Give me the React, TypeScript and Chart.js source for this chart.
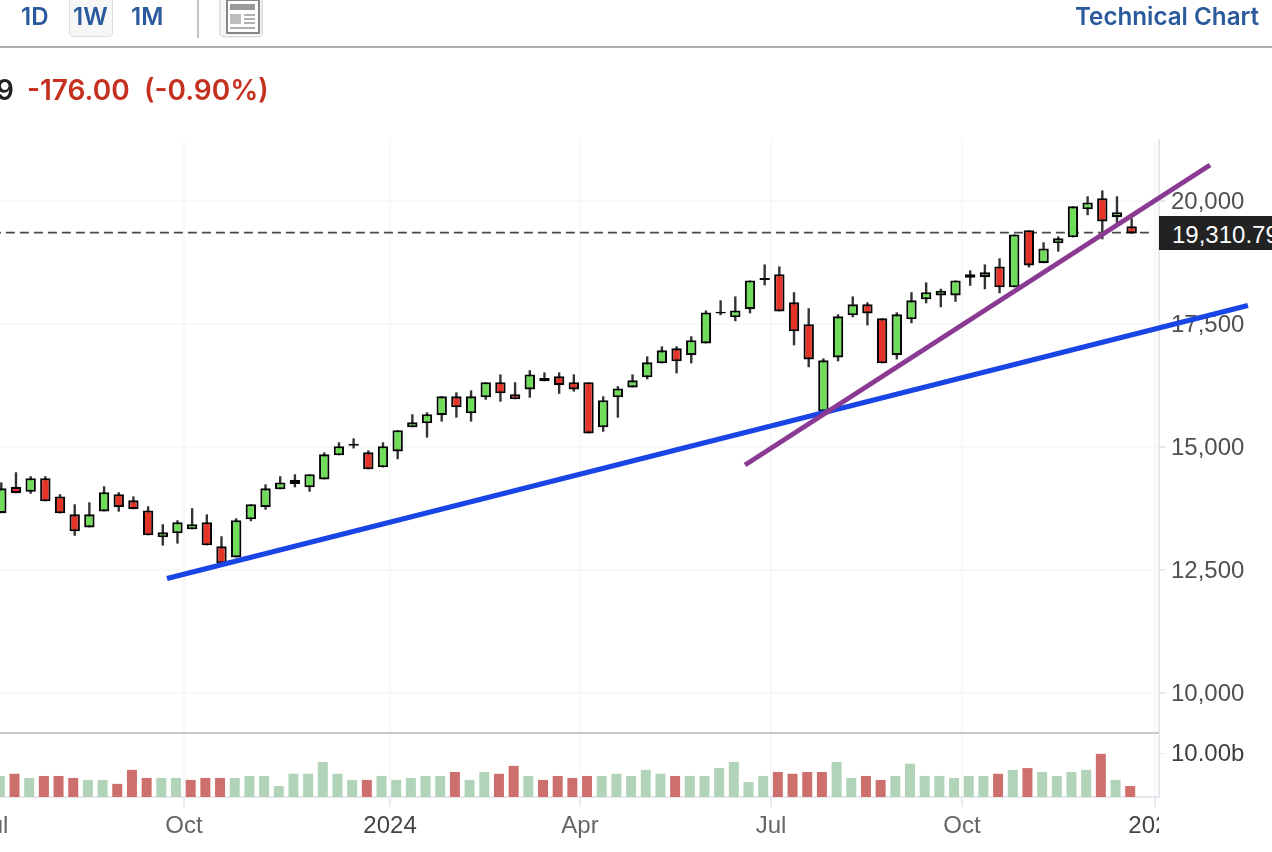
import React, { useEffect, useRef } from "react";
import { Chart, registerables } from "chart.js";

Chart.register(...registerables);

const opens = [13650,14185,14085,14360,13990,13625,13360,13685,14035,13910,13705,13160,13240,13320,13465,12975,12750,13525,13770,14135,14240,14175,14335,14825,15020,14885,14580,14905,15395,15475,15640,16025,15680,16005,16310,16065,16165,16395,16430,16310,16310,15395,16005,16205,16410,16695,17000,16860,17100,17705,17630,17795,18390,18505,17935,17490,15720,16815,17670,17895,17610,16860,17590,17995,18075,18075,18435,18445,18665,18240,19400,18730,19135,19255,19825,20050,19665,19480];
const closes = [14155,14055,14360,13890,13645,13280,13625,14075,13770,13730,13200,13260,13465,13425,12995,12630,13505,13830,14155,14275,14325,14440,14845,15010,15060,14540,15010,15335,15495,15660,16025,15800,16025,16310,16085,15965,16470,16330,16250,16165,15270,15945,16185,16350,16715,16960,16735,17165,17730,17745,17770,18380,18430,17750,17345,16775,16755,17650,17895,17710,16695,17690,17975,18140,18170,18380,18505,18545,18240,19315,18685,19030,19235,19885,19965,19580,19765,19335];
const highs = [14275,14480,14400,14400,14035,13830,13870,14195,14075,13990,13790,13425,13505,13750,13625,13180,13545,13830,14235,14400,14440,14440,14885,15090,15170,14925,15090,15335,15660,15700,16025,16105,16145,16310,16470,16310,16555,16510,16510,16470,16310,16025,16230,16470,16835,17040,17040,17245,17770,17975,18055,18380,18705,18665,18140,17815,16795,17690,18055,17935,17610,17730,18140,18340,18210,18380,18585,18705,18830,19315,19400,19155,19275,19885,20090,20210,20090,19640];
const lows = [13650,14055,14045,13890,13645,13190,13360,13685,13680,13730,13200,12990,13030,13320,12995,12630,12750,13485,13720,14135,14175,14085,14335,14825,14965,14540,14580,14745,15395,15185,15510,15590,15510,15955,15915,15965,15995,16330,16075,16120,15270,15305,15590,16205,16370,16695,16490,16695,17100,17675,17550,17710,18280,17750,17060,16615,15720,16735,17630,17465,16695,16775,17510,17915,17835,17945,18270,18200,18120,18240,18645,18730,18965,19255,19705,19215,19540,19335];
const volumes = [4.8,5.3,4.35,4.8,4.8,4.35,3.9,3.9,3.0,6.2,4.35,4.35,4.35,3.9,4.35,4.35,4.35,4.8,4.8,2.5,5.3,5.3,8.0,5.3,3.9,3.9,4.8,3.9,4.35,4.8,4.8,5.7,3.9,5.7,5.3,7.1,4.8,3.9,4.8,4.35,4.8,4.8,5.3,4.8,6.2,5.3,4.8,4.8,4.8,6.6,8.0,3.4,4.8,5.7,5.3,5.7,5.7,8.0,4.35,4.8,3.9,4.8,7.6,4.8,4.8,4.35,4.8,4.8,5.3,6.2,6.6,5.7,4.8,5.7,6.2,9.85,3.9,2.5];
const volumeUp = [1,0,1,0,0,0,1,1,0,0,0,1,1,0,0,0,1,1,1,1,1,1,1,1,1,0,1,1,1,1,1,0,1,1,0,0,1,0,0,0,0,1,1,1,1,1,0,1,1,1,1,1,1,0,0,0,0,1,1,0,0,1,1,1,1,1,1,1,0,1,0,1,1,1,1,0,1,0];

const priceTicks = [10000, 12500, 15000, 17500, 20000];
const volumeTicks = [10];
const xTickPositions = [-0.565, 12.445, 26.48, 39.42, 52.43, 65.44, 78.59];
const xTickLabels = ["Jul", "Oct", "2024", "Apr", "Jul", "Oct", "2025"];

const blueTrend = [{ x: 11.287, y: 12321 }, { x: 84.92, y: 17870 }];
const purpleTrend = [{ x: 50.66, y: 14628 }, { x: 82.34, y: 20726 }];
const lastLevel = 19350;
const lastLabel = "19,310.79";

const AXIS_FONT = "'Liberation Sans', Arial, sans-serif";
const UI_FONT = "Inter, 'Liberation Sans', sans-serif";
const BLUE_TEXT = "#2a5a9c";

function CandleChart() {
  const ref = useRef<HTMLCanvasElement>(null);
  useEffect(() => {
    const idx = opens.map((_, i) => i);
    const chart = new Chart(ref.current as HTMLCanvasElement, {
      type: "bar",
      data: {
        datasets: [
          {
            type: "line",
            data: [{ x: -3.5, y: lastLevel }, { x: 78.45, y: lastLevel }],
            borderColor: "#4a4a4a",
            borderWidth: 1.7,
            borderDash: [9, 5],
            pointRadius: 0,
            order: 6,
            yAxisID: "y",
          },
          {
            data: idx.map((i) => ({ x: i, y: [lows[i], highs[i]] })),
            backgroundColor: "#333333",
            barThickness: 2.4,
            grouped: false,
            inflateAmount: 0,
            order: 5,
            yAxisID: "y",
          },
          {
            data: idx.map((i) => ({ x: i, y: [opens[i], closes[i]] })),
            backgroundColor: idx.map((i) => (closes[i] >= opens[i] ? "#6fdc5a" : "#e63327")),
            borderColor: "#050505",
            borderWidth: 2.1,
            borderSkipped: false,
            barThickness: 10.4,
            grouped: false,
            inflateAmount: 0,
            order: 4,
            yAxisID: "y",
          },
          {
            data: idx.map((i) => ({ x: i - 0.1, y: volumes[i] })),
            backgroundColor: idx.map((i) => (volumeUp[i] ? "#b1d4b9" : "#cd706d")),
            barThickness: 10,
            grouped: false,
            inflateAmount: 0,
            order: 3,
            yAxisID: "yv",
          },
          {
            type: "line",
            data: blueTrend,
            borderColor: "#1a45e6",
            borderWidth: 5,
            pointRadius: 0,
            clip: false,
            order: 2,
            yAxisID: "y",
          },
          {
            type: "line",
            data: purpleTrend,
            borderColor: "#8a3a92",
            borderWidth: 5,
            pointRadius: 0,
            clip: false,
            order: 1,
            yAxisID: "y",
          },
        ] as any,
      },
      options: {
        animation: false,
        responsive: false,
        layout: { padding: { top: 140, left: 0, right: 0, bottom: 0 } },
        plugins: { legend: { display: false }, tooltip: { enabled: false } },
        scales: {
          x: {
            type: "linear",
            offset: false,
            min: -3.4946,
            max: 78.862,
            afterBuildTicks: (s: any) => {
              s.ticks = xTickPositions.map((value) => ({ value }));
            },
            afterFit: (s: any) => {
              s.height = 55;
            },
            grid: { offset: false, color: "#f7f8f9", lineWidth: 2, tickColor: "#e8e9ee", tickLength: 10 },
            border: { color: "#e6e8ee", width: 2 },
            ticks: {
              autoSkip: false,
              maxRotation: 0,
              padding: 5,
              font: { family: AXIS_FONT, size: 24 },
              color: (c: any) => (/^\d/.test(xTickLabels[c.index]) ? "#444444" : "#666666"),
              callback: (_v: any, i: number) => xTickLabels[i],
            },
          },
          y: {
            type: "linear",
            position: "right",
            stack: "panes",
            stackWeight: 593,
            weight: 1,
            min: 9181,
            max: 21234,
            afterBuildTicks: (s: any) => {
              s.ticks = priceTicks.map((value) => ({ value }));
            },
            afterFit: (s: any) => {
              s.width = 113;
            },
            grid: { color: "#f7f8f9", lineWidth: 2, tickColor: "#e6e8ee", tickLength: 6 },
            border: { color: "#e6e8ee", width: 2 },
            ticks: {
              autoSkip: false,
              padding: 6,
              labelOffset: 1.5,
              font: { family: AXIS_FONT, size: 24 },
              color: "#505050",
              callback: (v: any) => Number(v).toLocaleString("en-US"),
            },
          },
          yv: {
            type: "linear",
            position: "right",
            stack: "panes",
            stackWeight: 64,
            weight: 2,
            min: 0,
            max: 14.6,
            afterBuildTicks: (s: any) => {
              s.ticks = volumeTicks.map((value) => ({ value }));
            },
            afterFit: (s: any) => {
              s.width = 113;
            },
            grid: { drawOnChartArea: false, tickColor: "#e6e8ee", tickLength: 6 },
            border: { color: "#e6e8ee", width: 2 },
            ticks: {
              autoSkip: false,
              padding: 6,
              labelOffset: 1.5,
              font: { family: AXIS_FONT, size: 24 },
              color: "#404040",
              callback: (v: any) => Number(v).toFixed(2) + "b",
            },
          },
        },
      } as any,
    });
    return () => chart.destroy();
  }, []);
  return (
    <canvas
      ref={ref}
      width={1322}
      height={852}
      style={{ position: "absolute", left: -50, top: 0, display: "block" }}
    />
  );
}

const abs = (left: number, top: number, extra: React.CSSProperties = {}): React.CSSProperties => ({
  position: "absolute",
  left,
  top,
  whiteSpace: "nowrap",
  ...extra,
});

const tab = (left: number): React.CSSProperties =>
  abs(left, 3, { font: `600 24px ${UI_FONT}`, color: BLUE_TEXT, lineHeight: "28px" });

export default function App() {
  useEffect(() => {
    document.body.style.margin = "0";
  }, []);
  return (
    <div
      style={{
        position: "fixed",
        left: 0,
        top: 0,
        width: 1272,
        height: 852,
        overflow: "hidden",
        background: "#fff",
      }}
    >
      <CandleChart />
      <div style={abs(1159, 800, { width: 113, height: 52, background: "#fff" })} />
      <div style={abs(0, 732, { width: 1159, height: 2, background: "#c9c9c9" })} />
      <div
        style={abs(1159, 216, {
          width: 113,
          height: 34,
          background: "#222222",
          color: "#fff",
          font: `24px ${AXIS_FONT}`,
          lineHeight: "38px",
          paddingLeft: 13,
          boxSizing: "border-box",
          overflow: "hidden",
        })}
      >
        {lastLabel}
      </div>

      <div style={tab(21)}>1D</div>
      <div
        style={abs(69, -4, {
          width: 44,
          height: 41,
          boxSizing: "border-box",
          background: "#f6f6f6",
          border: "1.5px solid #dedede",
          borderRadius: 4,
        })}
      />
      <div style={tab(73)}>1W</div>
      <div style={tab(131)}>1M</div>
      <div style={abs(197, 0, { width: 2, height: 38, background: "#c2c2c2" })} />
      <svg style={abs(219, -3)} width={44} height={41}>
        <rect x={0.75} y={0.75} width={42.5} height={39} rx={4} fill="#f6f6f6" stroke="#dedede" strokeWidth={1.5} />
        <rect x={8} y={3} width={32} height={33} fill="#fff" stroke="#868686" strokeWidth={2} />
        <rect x={11} y={7} width={25} height={6} fill="#9a9a9a" />
        <rect x={11} y={17} width={11} height={10} fill="#bdbdbd" />
        <rect x={25} y={17} width={11} height={2} fill="#b0b0b0" />
        <rect x={25} y={21} width={11} height={2} fill="#b0b0b0" />
        <rect x={25} y={25} width={11} height={2} fill="#b0b0b0" />
        <rect x={11} y={30} width={25} height={2} fill="#b0b0b0" />
      </svg>
      <div style={abs(1075, 3, { font: `600 24.2px ${UI_FONT}`, color: BLUE_TEXT, lineHeight: "28px" })}>
        Technical Chart
      </div>
      <div style={abs(0, 46, { width: 1272, height: 2, background: "#ababab" })} />

      <div style={abs(-4, 74, { font: `600 28px ${UI_FONT}`, color: "#222222", lineHeight: "32px" })}>9</div>
      <div style={abs(27, 74, { font: `600 28px ${UI_FONT}`, color: "#c6301f", lineHeight: "32px" })}>
        -176.00
      </div>
      <div style={abs(144, 74, { font: `600 28px ${UI_FONT}`, color: "#c6301f", lineHeight: "32px" })}>
        (-0.90%)
      </div>
    </div>
  );
}
